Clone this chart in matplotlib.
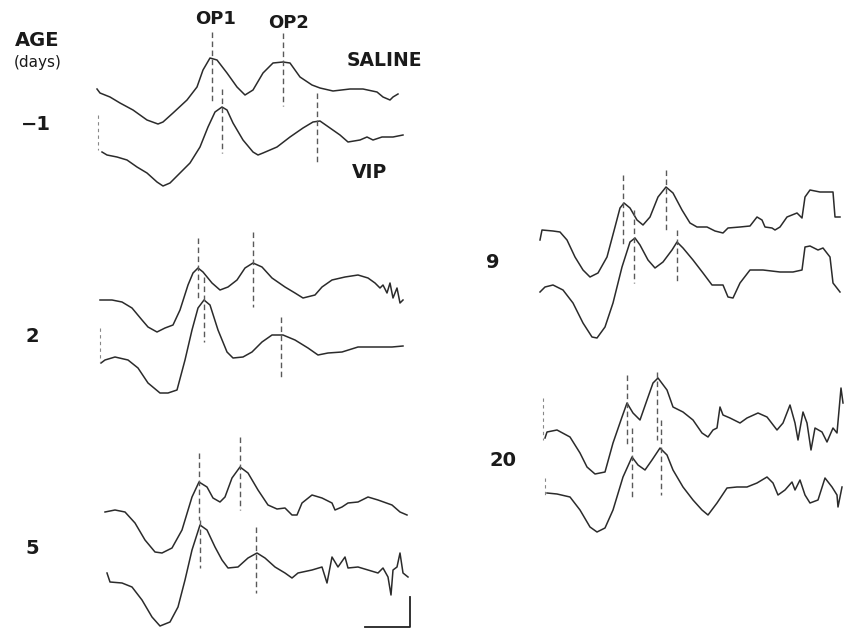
"""Redraw of the ERG oscillatory-potential figure (saline vs VIP, by age).

Traces are hand-traced from the scanned figure, in image pixel units
(x to the right, y downward), and drawn as-is on a pixel-sized axes.
"""

import matplotlib.pyplot as plt

W, H = 844, 629

# --- traced waveforms (x, y in image pixels) ---------------------------------
# age -1
SAL_M1_X = [97, 100, 110, 120, 133, 147, 158, 163, 173, 187, 197, 203, 210, 217, 227, 237, 245,
            253, 263, 273, 283, 290, 300, 312, 320, 333, 350, 363, 377, 383, 390, 393, 398]
SAL_M1_Y = [89, 93, 97, 103, 110, 120, 124, 122, 113, 100, 87, 70, 58, 60, 73, 87, 95,
            90, 73, 63, 62, 63, 77, 85, 88, 91, 89, 89, 92, 97, 100, 97, 94]
VIP_M1_X = [102, 107, 117, 127, 137, 147, 157, 163, 170, 180, 190, 200, 208, 215, 222, 227, 233,
            243, 253, 258, 263, 277, 290, 303, 313, 320, 330, 340, 348, 360, 367, 373, 382, 393, 403]
VIP_M1_Y = [152, 155, 157, 160, 167, 173, 182, 186, 183, 173, 163, 147, 127, 112, 107, 110, 123,
            140, 152, 155, 153, 147, 137, 128, 122, 121, 128, 135, 142, 140, 137, 140, 137, 137, 135]

# age 2
SAL_2_X = [100, 112, 122, 132, 142, 148, 157, 165, 173, 180, 188, 193, 198, 203, 212, 220, 228,
           237, 245, 253, 262, 272, 285, 295, 303, 315, 322, 332, 345, 358, 368, 375, 380, 383,
           387, 390, 393, 397, 400, 403]
SAL_2_Y = [300, 300, 302, 308, 320, 327, 332, 328, 325, 310, 285, 273, 268, 272, 283, 290, 287,
           280, 268, 263, 267, 278, 287, 293, 298, 295, 287, 280, 277, 275, 278, 283, 288, 285,
           293, 283, 298, 288, 303, 300]
VIP_2_X = [101, 105, 115, 128, 138, 148, 160, 168, 177, 185, 192, 198, 204, 210, 218, 227, 233,
           243, 252, 262, 272, 283, 295, 308, 318, 328, 342, 358, 375, 392, 403]
VIP_2_Y = [363, 360, 357, 360, 368, 383, 393, 393, 390, 360, 330, 308, 300, 305, 330, 352, 358,
           357, 352, 342, 335, 335, 340, 348, 355, 353, 352, 347, 347, 347, 346]

# age 5
SAL_5_X = [105, 115, 125, 135, 145, 155, 162, 172, 182, 192, 199, 207, 213, 220, 225, 232, 240,
           248, 258, 268, 277, 285, 292, 297, 302, 312, 322, 332, 335, 342, 348, 358, 368, 378,
           392, 400, 407]
SAL_5_Y = [512, 510, 512, 523, 540, 552, 553, 548, 530, 497, 482, 487, 498, 502, 497, 478, 467,
           473, 490, 505, 509, 508, 515, 515, 503, 495, 498, 503, 510, 507, 503, 502, 497, 500,
           505, 512, 515]
VIP_5_X = [107, 110, 122, 132, 142, 152, 160, 170, 178, 185, 192, 200, 207, 215, 222, 228, 238,
           248, 257, 265, 275, 285, 292, 298, 312, 322, 327, 332, 338, 345, 348, 358, 368, 378,
           383, 388, 391, 393, 397, 400, 403, 408]
VIP_5_Y = [573, 582, 583, 587, 600, 617, 626, 622, 607, 580, 550, 525, 530, 547, 560, 568, 567,
           558, 553, 558, 567, 573, 578, 573, 570, 567, 583, 557, 567, 557, 568, 567, 570, 573,
           568, 577, 595, 570, 567, 553, 573, 577]

# age 9
SAL_9_X = [540, 542, 553, 560, 567, 575, 583, 590, 598, 607, 615, 620, 624, 630, 637, 643, 650,
           658, 666, 673, 682, 690, 697, 707, 715, 723, 728, 740, 750, 757, 762, 765, 772, 775,
           780, 787, 797, 802, 805, 810, 820, 833, 835, 840]
SAL_9_Y = [240, 230, 231, 232, 240, 257, 270, 277, 273, 257, 227, 208, 203, 208, 220, 225, 217,
           197, 187, 193, 210, 223, 227, 227, 231, 233, 228, 227, 226, 217, 220, 227, 228, 230,
           227, 217, 213, 218, 197, 190, 192, 192, 217, 217]
VIP_9_X = [540, 545, 553, 563, 573, 583, 592, 597, 605, 613, 622, 630, 635, 640, 648, 655, 663,
           672, 677, 683, 693, 703, 712, 723, 728, 733, 740, 750, 763, 780, 793, 802, 805, 810,
           818, 823, 830, 833, 840]
VIP_9_Y = [292, 287, 285, 290, 303, 323, 337, 338, 327, 303, 267, 242, 238, 245, 260, 268, 262,
           250, 242, 248, 260, 273, 285, 285, 297, 298, 283, 270, 270, 272, 272, 270, 247, 246,
           250, 248, 257, 283, 292]

# age 20
SAL_20_X = [545, 547, 557, 570, 580, 587, 595, 605, 613, 622, 627, 633, 640, 647, 653, 658, 667,
            673, 683, 693, 702, 708, 713, 717, 720, 723, 730, 740, 747, 758, 767, 777, 783, 790,
            795, 798, 803, 807, 811, 815, 822, 827, 833, 837, 841, 843]
SAL_20_Y = [438, 432, 430, 437, 453, 467, 474, 472, 443, 417, 403, 413, 420, 400, 383, 378, 390,
            407, 412, 420, 433, 437, 430, 428, 407, 415, 418, 423, 418, 413, 417, 430, 423, 405,
            423, 440, 412, 423, 450, 428, 432, 442, 428, 433, 388, 403]
VIP_20_X = [547, 557, 570, 580, 590, 597, 605, 613, 623, 632, 638, 645, 652, 660, 667, 673, 683,
            693, 702, 708, 717, 727, 737, 747, 757, 767, 773, 778, 785, 792, 795, 800, 805, 810,
            818, 825, 832, 837, 838, 842]
VIP_20_Y = [493, 494, 497, 510, 527, 532, 528, 510, 477, 457, 465, 470, 460, 448, 455, 470, 487,
            500, 510, 515, 503, 488, 487, 487, 483, 477, 483, 495, 490, 482, 490, 480, 495, 503,
            500, 478, 487, 495, 507, 487]

# start-of-sweep ticks (x, y_top, y_bottom)
START_TICKS = [(98, 115, 150), (100, 328, 363), (543, 398, 440), (545, 478, 495)]

# OP1 / OP2 latency markers (x, y_top, y_bottom)
MARKERS = [
    (212, 32, 103), (283, 33, 106), (222, 89, 153), (317, 93, 165),      # -1
    (198, 238, 298), (253, 232, 307), (204, 277, 342), (281, 317, 379),  # 2
    (199, 453, 520), (240, 437, 510), (200, 520, 568), (256, 527, 593),  # 5
    (623, 175, 247), (666, 170, 232), (634, 210, 283), (677, 230, 283),  # 9
    (627, 375, 445), (657, 372, 440), (632, 428, 500), (661, 420, 495),  # 20
]

AGES = ["\u22121", "2", "5", "9", "20"]
AGE_POS = [(36, 125), (32, 336), (32, 548), (493, 262), (503, 461)]

# scale bar corner points
SCALE_X = [365, 410, 410]
SCALE_Y = [627, 627, 597]

TRACES = [
    (SAL_M1_X, SAL_M1_Y), (VIP_M1_X, VIP_M1_Y),
    (SAL_2_X, SAL_2_Y), (VIP_2_X, VIP_2_Y),
    (SAL_5_X, SAL_5_Y), (VIP_5_X, VIP_5_Y),
    (SAL_9_X, SAL_9_Y), (VIP_9_X, VIP_9_Y),
    (SAL_20_X, SAL_20_Y), (VIP_20_X, VIP_20_Y),
]

plt.rcParams["font.family"] = ["DejaVu Sans"]

fig = plt.figure(figsize=(W / 100, H / 100), dpi=100)
ax = fig.add_axes([0, 0, 1, 1])
ax.set_xlim(0, W)
ax.set_ylim(H, 0)
ax.axis("off")

trace_kw = dict(color="#2b2b2b", lw=1.1, solid_joinstyle="round")
for xs, ys in TRACES:
    ax.plot(xs, ys, **trace_kw)

for x, y0, y1 in START_TICKS:
    ax.plot([x, x], [y0, y1], color="#888888", lw=0.8, ls=(0, (3, 3)))

for x, y0, y1 in MARKERS:
    ax.plot([x, x], [y0, y1], color="#5a5a5a", lw=1.0, ls=(0, (4, 2.5)))

ax.plot(SCALE_X, SCALE_Y, color="#222222", lw=1.3)

# labels
bold = dict(fontweight="bold", ha="center", va="center", color="#1a1a1a")
ax.text(37, 40, "AGE", fontsize=14, **bold)
ax.text(38, 63, "(days)", fontsize=11, ha="center", va="center", color="#1a1a1a")
ax.text(216, 19, "OP1", fontsize=13, **bold)
ax.text(289, 23, "OP2", fontsize=13, **bold)
ax.text(384, 61, "SALINE", fontsize=13.5, **bold)
ax.text(370, 173, "VIP", fontsize=13.5, **bold)
for lab, (x, y) in zip(AGES, AGE_POS):
    ax.text(x, y, lab, fontsize=14, **bold)

fig.savefig("out.png", dpi=100, facecolor="white")
